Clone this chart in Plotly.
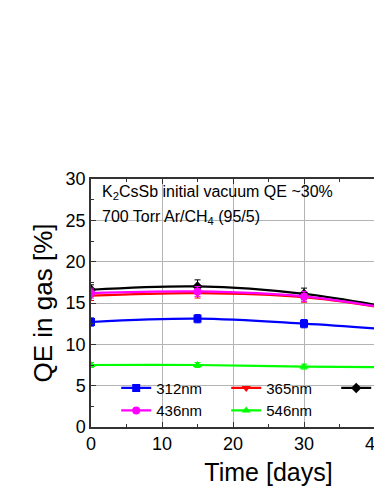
import plotly.graph_objects as go

days = [0, 15, 30, 45]
qe_312 = [12.7, 13.1, 12.5, 11.6]
qe_365 = [15.9, 16.2, 15.7, 13.9]
qe_405 = [16.6, 17.0, 16.1, 14.0]
qe_436 = [16.2, 16.4, 15.8, 13.9]
qe_546 = [7.5, 7.5, 7.3, 7.2]
err_312 = [0.5, 0.5, 0.5, 0.5]
err_365 = [0.6, 0.6, 0.6, 0.6]
err_405 = [0.6, 0.8, 0.7, 0.6]
err_436 = [0.6, 0.6, 0.6, 0.6]
err_546 = [0.3, 0.3, 0.3, 0.3]

series = [
    ("312nm", qe_312, err_312, "#0000ff", "square"),
    ("365nm", qe_365, err_365, "#ff0000", "triangle-down"),
    ("405nm", qe_405, err_405, "#000000", "diamond"),
    ("436nm", qe_436, err_436, "#ff00ff", "circle"),
    ("546nm", qe_546, err_546, "#00ff00", "triangle-up"),
]

fig = go.Figure()
for name, vals, errs, col, sym in series:
    fig.add_trace(go.Scatter(
        x=days, y=vals, name=name, mode="lines+markers",
        line=dict(color=col, width=2.2, shape="spline"),
        marker=dict(symbol=sym, size=8, color=col),
        error_y=dict(type="data", array=errs, visible=True, color=col,
                     thickness=1, width=3),
        cliponaxis=True,
    ))

font_family = "Liberation Sans, Arial, sans-serif"

fig.update_layout(
    width=470, height=486,
    margin=dict(l=83, r=32, t=171, b=59),
    paper_bgcolor="white", plot_bgcolor="white",
    font=dict(family=font_family, color="black"),
    showlegend=True,
    legend=dict(orientation="h", x=0.071, y=0.223, xanchor="left", yanchor="top",
                entrywidth=65, entrywidthmode="pixels",
                font=dict(size=15, family=font_family), bgcolor="rgba(0,0,0,0)",
                tracegroupgap=0),
    xaxis=dict(range=[0, 50], dtick=10, tick0=0,
               showgrid=True, gridcolor="#b4b4b4", gridwidth=1,
               showline=True, linecolor="#333333", linewidth=1.5, mirror="ticks",
               ticks="inside", ticklen=5, tickcolor="#333333",
               minor=dict(dtick=5, ticks="inside", ticklen=3, tickcolor="#333333", showgrid=False),
               tickfont=dict(size=18), zeroline=False,
               title=dict(text="Time [days]", font=dict(size=25), standoff=10)),
    yaxis=dict(range=[0, 30], dtick=5, tick0=0,
               showgrid=True, gridcolor="#b4b4b4", gridwidth=1,
               showline=True, linecolor="#333333", linewidth=1.5,
               ticks="inside", ticklen=5, tickcolor="#333333",
               minor=dict(dtick=2.5, ticks="inside", ticklen=3, tickcolor="#333333", showgrid=False),
               tickfont=dict(size=18), zeroline=False,
               title=dict(text="QE in gas [%]", font=dict(size=26), standoff=6)),
    annotations=[
        dict(text="K<sub>2</sub>CsSb initial vacuum QE ~30%", x=0.024, y=0.99,
             xref="paper", yref="paper", xanchor="left", yanchor="top",
             showarrow=False, font=dict(size=16)),
        dict(text="700 Torr Ar/CH<sub>4</sub> (95/5)", x=0.024, y=0.89,
             xref="paper", yref="paper", xanchor="left", yanchor="top",
             showarrow=False, font=dict(size=16)),
    ],
)

fig.write_html("out.html")
